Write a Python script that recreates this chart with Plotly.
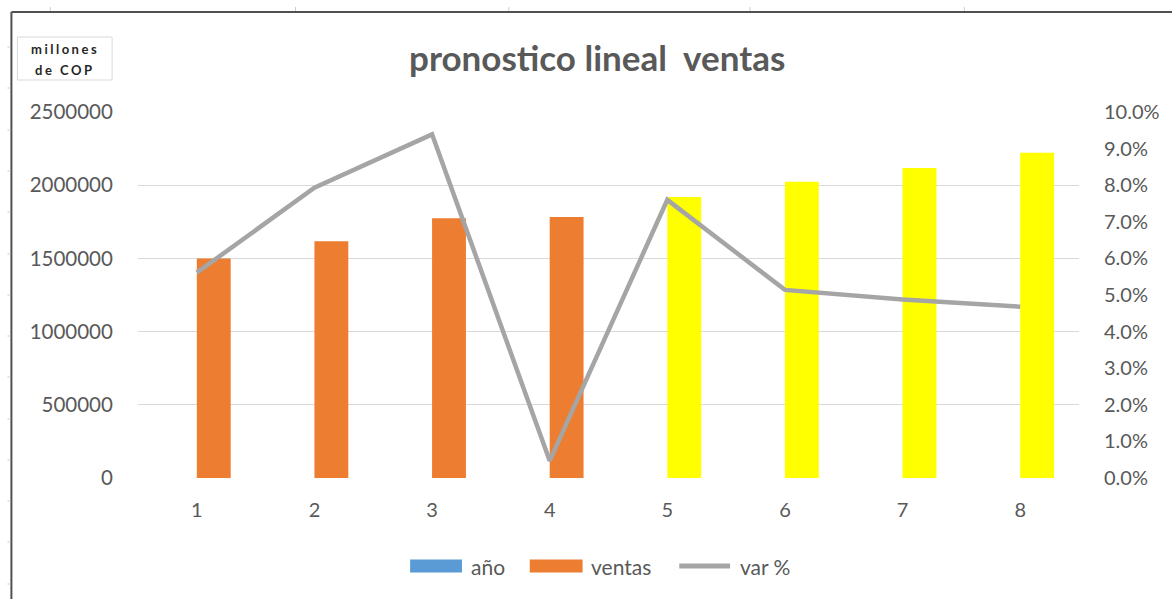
import plotly.graph_objects as go

# ---- data ----
anios = [1, 2, 3, 4, 5, 6, 7, 8]
ventas = [1500000, 1617000, 1774000, 1783000, 1919000, 2024000, 2117000, 2222000]
var_pct = [0.0561, 0.0793, 0.0939, 0.0047, 0.0760, 0.0514, 0.0488, 0.0468]
ventas_colores = ["#ED7D31"] * 4 + ["#FFFF00"] * 4
y_ticks = [0, 500000, 1000000, 1500000, 2000000, 2500000]
y2_ticks = [i / 100 for i in range(0, 11)]
legend_labels = ["año", "ventas", "var %"]
legend_colors = ["#5B9BD5", "#ED7D31", "#A5A5A5"]

W, H = 1172, 599
L, R, T, B = 138, 1082, 112, 478  # plot area in pixels

def px(x):
    return (x - L) / (R - L)

def py(y):
    return (B - y) / (B - T)

TXT = "#595959"
FONT = "Lato"

fig = go.Figure()
fig.add_trace(go.Bar(x=anios, y=anios, name="año", marker_color="#5B9BD5",
                     marker_line_width=0, showlegend=False))
fig.add_trace(go.Bar(x=anios, y=ventas, name="ventas", marker_color=ventas_colores,
                     marker_line_width=0, showlegend=False))
fig.add_trace(go.Scatter(x=anios, y=var_pct, name="var %", yaxis="y2", mode="lines",
                         line=dict(color="#A5A5A5", width=4.5), showlegend=False))

shapes = []
annotations = []

# chart frame (left and top edges)
shapes.append(dict(type="line", xref="paper", yref="paper", x0=px(11), x1=px(11),
                   y0=py(12), y1=py(H + 5), line=dict(color="#505050", width=2)))
shapes.append(dict(type="line", xref="paper", yref="paper", x0=px(11), x1=px(W + 5),
                   y0=py(12), y1=py(12), line=dict(color="#505050", width=2)))
# faint sheet grid marks outside the frame
for yy in [47, 88, 130, 171, 212, 254, 295, 336, 377, 419, 460, 501, 542, 584]:
    shapes.append(dict(type="line", xref="paper", yref="paper", x0=px(7), x1=px(10),
                       y0=py(yy), y1=py(yy), line=dict(color="#CFCFCF", width=1)))
for xx in [50, 296, 510, 752, 967]:
    shapes.append(dict(type="line", xref="paper", yref="paper", x0=px(xx), x1=px(xx),
                       y0=py(7), y1=py(11), line=dict(color="#CFCFCF", width=1)))

# unit box
shapes.append(dict(type="rect", xref="paper", yref="paper", x0=px(17), x1=px(112),
                   y0=py(80), y1=py(37), line=dict(color="#D9D9D9", width=1),
                   fillcolor="white"))
annotations.append(dict(xref="paper", yref="paper", x=px(64.5), y=py(49), showarrow=False,
                        text="<b><span style='letter-spacing:2.5px'>millones</span></b>",
                        font=dict(family=FONT, size=13, color="#262626"),
                        xanchor="center", yanchor="middle"))
annotations.append(dict(xref="paper", yref="paper", x=px(64.5), y=py(70), showarrow=False,
                        text="<b><span style='letter-spacing:2.5px'>de COP</span></b>",
                        font=dict(family=FONT, size=13, color="#262626"),
                        xanchor="center", yanchor="middle"))

# title
annotations.append(dict(xref="paper", yref="paper", x=px(598), y=py(57), showarrow=False,
                        text="<b>pronostico lineal  ventas</b>",
                        font=dict(family=FONT, size=35, color=TXT),
                        xanchor="center", yanchor="middle"))

# legend drawn as swatches + labels
leg_y = 566
leg_items = [(411, 463, 470), (531, 584, 590), (679, 734, 740)]
for i, (x0, x1, tx) in enumerate(leg_items):
    if i < 2:
        shapes.append(dict(type="rect", xref="paper", yref="paper", x0=px(x0), x1=px(x1),
                           y0=py(leg_y + 6.5), y1=py(leg_y - 6.5),
                           fillcolor=legend_colors[i], line=dict(width=0)))
    else:
        shapes.append(dict(type="line", xref="paper", yref="paper", x0=px(x0 + 2), x1=px(x1 - 2),
                           y0=py(leg_y), y1=py(leg_y),
                           line=dict(color=legend_colors[i], width=5)))
    annotations.append(dict(xref="paper", yref="paper", x=px(tx), y=py(leg_y), showarrow=False,
                            text=legend_labels[i], font=dict(family=FONT, size=21, color=TXT),
                            xanchor="left", yanchor="middle"))

fig.update_layout(
    width=W, height=H,
    margin=dict(l=L, r=W - R, t=T, b=H - B, pad=0),
    paper_bgcolor="white", plot_bgcolor="white",
    barmode="group", bargap=0.424, bargroupgap=0,
    showlegend=False,
    font=dict(family=FONT, color=TXT, size=20),
    xaxis=dict(range=[0.5, 8.5], tickvals=anios, ticktext=[str(a) for a in anios],
               showgrid=False, zeroline=False, showline=False,
               ticks="outside", ticklen=14, tickcolor="rgba(0,0,0,0)",
               tickfont=dict(family=FONT, size=20, color=TXT)),
    yaxis=dict(range=[0, 2500000], tickvals=y_ticks, ticktext=[str(v) for v in y_ticks],
               showgrid=True, gridcolor="#D9D9D9", gridwidth=1, zeroline=False,
               showline=False, ticks="outside", ticklen=20, tickcolor="rgba(0,0,0,0)",
               tickfont=dict(family=FONT, size=20.5, color=TXT)),
    yaxis2=dict(range=[0, 0.10], overlaying="y", side="right", tickvals=y2_ticks,
                tickformat=".1%", showgrid=False, zeroline=False, showline=False,
                ticks="outside", ticklen=20, tickcolor="rgba(0,0,0,0)",
                tickfont=dict(family=FONT, size=20, color=TXT)),
    shapes=shapes,
    annotations=annotations,
)

fig.write_html("out.html")
